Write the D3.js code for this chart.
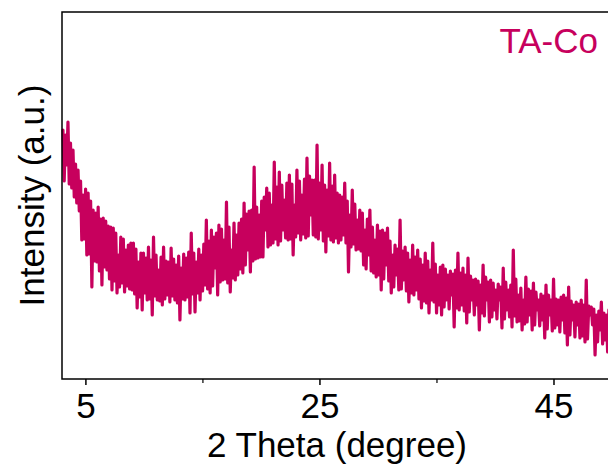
<!DOCTYPE html>
<html>
<head>
<meta charset="utf-8">
<script src="https://cdn.jsdelivr.net/npm/d3@7"></script>
<style>
  body { margin: 0; background: #fff; }
  svg { display: block; }
</style>
</head>
<body>
<svg id="chart" width="608" height="470"></svg>
<script>
// Powder XRD pattern of the TA-Co sample
const sampleName = "TA-Co";
const xLabel = "2 Theta (degree)";
const yLabel = "Intensity (a.u.)";
const xMajorTicks = [5, 25, 45];
const xMinorTicks = [15, 35];

// scan grid (2θ, degrees)
const scanStart = 3.08;
const scanStep = 0.1075;

// intensity (a.u.) at each scan step
const intensity = [
  249, 198, 244, 214, 257, 195, 236, 191, 229, 182, 215, 176, 209, 168, 198, 139, 184, 140, 190, 124,
  186, 125, 178, 92, 169, 118, 166, 117, 172, 108, 160, 94, 161, 112, 158, 109, 153, 100, 152, 89,
  151, 98, 146, 86, 124, 92, 142, 96, 140, 87, 129, 93, 134, 90, 136, 89, 136, 85, 130, 71,
  117, 82, 126, 69, 126, 86, 121, 79, 132, 80, 119, 64, 142, 83, 124, 79, 109, 78, 122, 74,
  132, 80, 118, 84, 117, 77, 131, 83, 120, 79, 114, 76, 123, 59, 111, 80, 125, 79, 121, 82,
  127, 66, 146, 85, 126, 67, 117, 86, 130, 79, 124, 88, 135, 94, 159, 90, 138, 86, 149, 93,
  142, 111, 146, 84, 154, 97, 150, 99, 139, 100, 177, 96, 152, 87, 129, 101, 156, 99, 144, 104,
  156, 110, 160, 106, 176, 114, 165, 129, 168, 107, 169, 118, 212, 120, 172, 121, 164, 122, 178, 122,
  182, 149, 191, 132, 186, 134, 174, 136, 217, 140, 192, 134, 207, 138, 194, 149, 179, 141, 196, 139,
  204, 140, 195, 124, 174, 142, 209, 146, 198, 139, 184, 145, 200, 141, 221, 143, 203, 164, 199, 144,
  199, 142, 234, 140, 196, 149, 214, 138, 194, 127, 189, 143, 216, 139, 193, 137, 204, 141, 186, 136,
  184, 139, 182, 144, 196, 136, 178, 107, 164, 132, 189, 135, 175, 129, 159, 130, 169, 128, 166, 114,
  149, 110, 160, 124, 169, 108, 152, 106, 139, 102, 154, 104, 148, 89, 149, 100, 146, 114, 151, 98,
  138, 86, 124, 92, 134, 104, 130, 89, 159, 90, 128, 99, 132, 88, 126, 77, 119, 86, 134, 84,
  122, 89, 129, 80, 120, 71, 114, 78, 126, 76, 118, 66, 109, 79, 136, 77, 115, 66, 104, 74,
  112, 64, 114, 72, 110, 79, 104, 70, 108, 84, 105, 52, 109, 71, 126, 69, 106, 74, 111, 68,
  104, 56, 121, 67, 103, 79, 99, 64, 100, 74, 98, 49, 94, 66, 114, 63, 102, 79, 97, 57,
  99, 62, 96, 69, 89, 60, 95, 79, 92, 51, 111, 60, 97, 69, 89, 62, 94, 52, 129, 63,
  100, 57, 84, 58, 91, 49, 79, 55, 102, 57, 90, 64, 88, 49, 96, 54, 87, 69, 79, 53,
  85, 59, 83, 41, 94, 50, 84, 64, 79, 48, 100, 51, 80, 54, 79, 47, 82, 59, 84, 46,
  81, 34, 92, 44, 78, 59, 74, 42, 77, 54, 75, 41, 79, 43, 74, 37, 99, 40, 73, 64,
  72, 54, 70, 24, 64, 37, 68, 49, 77, 35, 66, 39, 64, 27, 69, 33
];

const lineColor = "#C7005D";
const font = "'Liberation Sans', Arial, sans-serif";

const svg = d3.select("#chart");
const plot = { left: 62, top: 12, right: 612, bottom: 379 };

const x = d3.scaleLinear().domain([3, 50]).range([plot.left, plot.right]);
const y = d3.scaleLinear().domain([0, 367]).range([plot.bottom, plot.top]);

const points = intensity.map((v, i) => ({ t: scanStart + i * scanStep, v }));

// pattern trace
svg.append("path")
  .datum(points)
  .attr("fill", "none")
  .attr("stroke", lineColor)
  .attr("stroke-width", 3.2)
  .attr("stroke-linejoin", "round")
  .attr("stroke-linecap", "round")
  .attr("d", d3.line().x(d => x(d.t)).y(d => y(d.v)));

// frame
svg.append("rect")
  .attr("x", plot.left)
  .attr("y", plot.top)
  .attr("width", plot.right - plot.left)
  .attr("height", plot.bottom - plot.top)
  .attr("fill", "none")
  .attr("stroke", "#000")
  .attr("stroke-width", 1.5);

// x axis: major ticks with labels, minor ticks without
const xAxis = d3.axisBottom(x)
  .tickValues(xMajorTicks)
  .tickSize(6)
  .tickPadding(8)
  .tickFormat(d3.format("d"));
const gx = svg.append("g")
  .attr("transform", `translate(0,${plot.bottom})`)
  .call(xAxis);
gx.select(".domain").remove();
gx.selectAll(".tick line").attr("stroke", "#000").attr("stroke-width", 1.5);
gx.selectAll(".tick text")
  .attr("fill", "#000")
  .style("font-family", font)
  .style("font-size", "35px");

const gxMinor = svg.append("g")
  .attr("transform", `translate(0,${plot.bottom})`)
  .call(d3.axisBottom(x).tickValues(xMinorTicks).tickSize(4).tickFormat(""));
gxMinor.select(".domain").remove();
gxMinor.selectAll(".tick line").attr("stroke", "#000").attr("stroke-width", 1.2);

// axis titles
svg.append("text")
  .attr("x", (plot.left + plot.right) / 2)
  .attr("y", 457)
  .attr("text-anchor", "middle")
  .style("font-family", font)
  .style("font-size", "35px")
  .text(xLabel);

svg.append("text")
  .attr("transform", `translate(44,${(plot.top + plot.bottom) / 2}) rotate(-90)`)
  .attr("text-anchor", "middle")
  .style("font-family", font)
  .style("font-size", "35px")
  .text(yLabel);

// sample label
svg.append("text")
  .attr("x", 598)
  .attr("y", 53)
  .attr("text-anchor", "end")
  .attr("fill", lineColor)
  .style("font-family", font)
  .style("font-size", "35px")
  .text(sampleName);
</script>
</body>
</html>
